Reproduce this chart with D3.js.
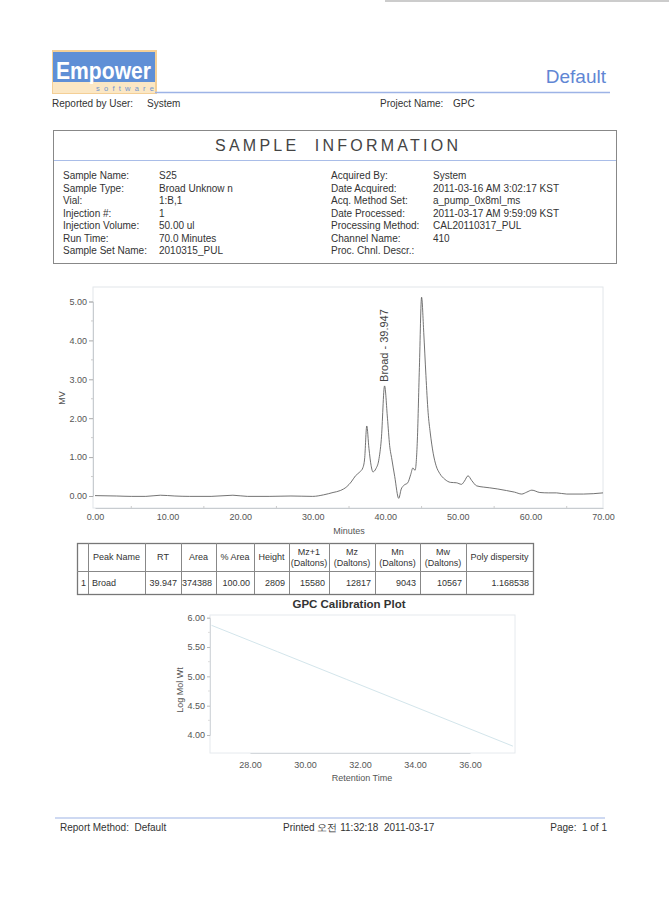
<!DOCTYPE html>
<html>
<head>
<meta charset="utf-8">
<script src="https://cdn.jsdelivr.net/npm/d3@7"></script>
<style>
body { margin: 0; background: #fff; }
text { font-family: "Liberation Sans", Arial, sans-serif; fill: #333; white-space: pre; }
</style>
</head>
<body>
<div id="page"></div>
<script>
// page size
let width = 669,
	height = 906;

// sample information
let infoLeftLabels = ["Sample Name:", "Sample Type:", "Vial:", "Injection #:", "Injection Volume:", "Run Time:", "Sample Set Name:"];
let infoLeftValues = ["S25", "Broad Unknow n", "1:B,1", "1", "50.00 ul", "70.0 Minutes", "2010315_PUL"];
let infoRightLabels = ["Acquired By:", "Date Acquired:", "Acq. Method Set:", "Date Processed:", "Processing Method:", "Channel Name:", "Proc. Chnl. Descr.:"];
let infoRightValues = ["System", "2011-03-16 AM 3:02:17 KST", "a_pump_0x8ml_ms", "2011-03-17 AM 9:59:09 KST", "CAL20110317_PUL", "410", ""];

// chromatogram (minutes, MV)
let chromTime = [0, 3, 5, 7, 9, 11, 13, 16, 19, 21, 24, 27, 30, 31.5, 32.8, 33.8, 34.7, 35.3, 35.9, 36.5, 36.9, 37.15, 37.45, 37.75, 38.05, 38.3, 38.7, 39.1, 39.45, 39.9, 40.3, 40.6, 40.9, 41.3, 41.85, 42.2, 42.6, 43.1, 43.5, 43.8, 44.1, 44.4, 44.7, 45.0, 45.3, 45.6, 45.9, 46.2, 46.6, 47.0, 47.5, 48.2, 49.0, 49.8, 50.5, 50.9, 51.4, 51.9, 52.6, 53.5, 54.4, 55.5, 56.7, 57.8, 58.8, 59.5, 60.2, 61.3, 62.5, 63.6, 65.0, 67.3, 70];
let chromSignal = [0.01, 0.0, -0.01, -0.01, 0.02, 0.0, -0.01, -0.01, 0.02, -0.01, -0.01, 0.0, -0.01, 0.03, 0.09, 0.14, 0.24, 0.36, 0.52, 0.62, 0.72, 0.95, 1.80, 1.22, 0.78, 0.62, 0.70, 0.92, 1.45, 2.83, 2.0, 1.30, 0.95, 0.50, -0.06, 0.18, 0.28, 0.34, 0.55, 0.72, 0.66, 1.35, 3.3, 5.11, 4.2, 3.1, 2.15, 1.62, 1.1, 0.78, 0.58, 0.43, 0.35, 0.34, 0.30, 0.38, 0.52, 0.40, 0.26, 0.23, 0.21, 0.18, 0.14, 0.10, 0.05, 0.10, 0.15, 0.09, 0.08, 0.08, 0.05, 0.05, 0.08];
let chromXTicks = [0, 10, 20, 30, 40, 50, 60, 70];
let chromYTicks = [0, 1, 2, 3, 4, 5];
let peakLabel = "Broad - 39.947";
let peakRT = 39.947, peakHeight = 2.83;

// peak table
let tableHeaders = [["", ""], ["Peak Name"], ["RT"], ["Area"], ["% Area"], ["Height"], ["Mz+1", "(Daltons)"], ["Mz", "(Daltons)"], ["Mn", "(Daltons)"], ["Mw", "(Daltons)"], ["Poly dispersity"]];
let tableRow = ["1", "Broad", "39.947", "374388", "100.00", "2809", "15580", "12817", "9043", "10567", "1.168538"];

// calibration curve
let calRT = [26.6, 29.0, 31.5, 34.0, 37.56];
let calLogMW = [5.87, 5.42, 4.95, 4.48, 3.81];
let calXTicks = [28, 30, 32, 34, 36];
let calYTicks = [4, 4.5, 5, 5.5, 6];

let svg = d3.select("#page").append("svg")
	.attr("width", width)
	.attr("height", height);

svg.append("rect").attr("width", width).attr("height", height).attr("fill", "#fff");

// scanned page edge
svg.append("line").attr("x1", 385).attr("x2", 669).attr("y1", 1).attr("y2", 1)
	.attr("stroke", "#999").attr("stroke-width", 1);

// ---------- header ----------
let logo = svg.append("g");
logo.append("rect").attr("x", 52).attr("y", 50).attr("width", 105).attr("height", 44).attr("fill", "#f4cf96");
logo.append("rect").attr("x", 53).attr("y", 52).attr("width", 102).attr("height", 30).attr("fill", "#5f8fd6");
logo.append("rect").attr("x", 53).attr("y", 82).attr("width", 102).attr("height", 11).attr("fill", "#fbe7c4");
logo.append("text").attr("x", 56).attr("y", 79).attr("font-size", 24).attr("font-weight", "bold")
	.attr("textLength", 95).attr("lengthAdjust", "spacingAndGlyphs")
	.style("fill", "#fff").text("Empower");
logo.append("text").attr("x", 96).attr("y", 91).attr("font-size", 7.5)
	.attr("textLength", 58).attr("lengthAdjust", "spacing")
	.style("fill", "#6f95d0").text("software");

svg.append("line").attr("x1", 155).attr("x2", 610).attr("y1", 92.5).attr("y2", 92.5)
	.attr("stroke", "#9db3e6").attr("stroke-width", 1.5);
svg.append("text").attr("x", 606).attr("y", 83).attr("text-anchor", "end").attr("font-size", 19)
	.style("fill", "#5f86d4").text("Default");

svg.append("text").attr("x", 52).attr("y", 107).attr("font-size", 10).text("Reported by User:");
svg.append("text").attr("x", 147).attr("y", 107).attr("font-size", 10).text("System");
svg.append("text").attr("x", 380).attr("y", 107).attr("font-size", 10).text("Project Name:");
svg.append("text").attr("x", 453).attr("y", 107).attr("font-size", 10).text("GPC");

// ---------- sample information box ----------
svg.append("rect").attr("x", 53.5).attr("y", 130.5).attr("width", 563).attr("height", 133)
	.attr("fill", "none").attr("stroke", "#888").attr("stroke-width", 1);
svg.append("line").attr("x1", 54).attr("x2", 616).attr("y1", 160.5).attr("y2", 160.5)
	.attr("stroke", "#a9bde8").attr("stroke-width", 1.2);
svg.append("text").attr("x", 215).attr("y", 151).attr("font-size", 16)
	.attr("textLength", 243).attr("lengthAdjust", "spacing")
	.style("fill", "#444").text("SAMPLE  INFORMATION");

let rowY = d3.scaleLinear().domain([0, 6]).range([179, 254]);
let info = svg.append("g").attr("font-size", 10);
infoLeftLabels.forEach((d, i) => {
	info.append("text").attr("x", 63).attr("y", rowY(i)).text(d);
	info.append("text").attr("x", 159).attr("y", rowY(i)).text(infoLeftValues[i]);
	info.append("text").attr("x", 331).attr("y", rowY(i)).text(infoRightLabels[i]);
	info.append("text").attr("x", 433).attr("y", rowY(i)).text(infoRightValues[i]);
});

// ---------- chromatogram ----------
let cx = d3.scaleLinear().domain([0, 70]).range([95, 603]);
let cy = d3.scaleLinear().domain([0, 5]).range([496, 301.5]);
let cTop = 287, cBottom = 508, cLeft = 93, cRight = 603;

let chrom = svg.append("g");
chrom.append("rect").attr("x", cLeft).attr("y", cTop).attr("width", cRight - cLeft).attr("height", cBottom - cTop)
	.attr("fill", "none").attr("stroke", "#e2e6ea").attr("stroke-width", 1);

let yAxis = chrom.append("g").attr("transform", "translate(" + cLeft + ",0)")
	.call(d3.axisLeft(cy).tickValues(chromYTicks).tickFormat(d3.format(".2f")).tickSize(4).tickPadding(2));
let xAxis = chrom.append("g").attr("transform", "translate(0," + cBottom + ")")
	.call(d3.axisBottom(cx).tickValues(chromXTicks).tickFormat(d3.format(".2f")).tickSize(0).tickPadding(6));
[yAxis, xAxis].forEach(a => {
	a.select(".domain").attr("stroke", "#c8ccd0");
	a.selectAll(".tick line").attr("stroke", "#aaa");
	a.selectAll("text").attr("font-size", 9).style("fill", "#555")
		.style("font-family", "'Liberation Sans', Arial, sans-serif");
});
// minor ticks
chrom.selectAll(".ymin").data(d3.range(0.5, 5.5, 1)).enter().append("line")
	.attr("x1", cLeft - 2).attr("x2", cLeft).attr("y1", d => cy(d)).attr("y2", d => cy(d)).attr("stroke", "#ccc");
chrom.selectAll(".xmin").data(d3.range(5, 70, 10)).enter().append("line")
	.attr("x1", d => cx(d)).attr("x2", d => cx(d)).attr("y1", cBottom).attr("y2", cBottom - 2).attr("stroke", "#ccc");

let chromData = chromTime.map((t, i) => ({t: t, v: chromSignal[i]}));
chrom.append("path").datum(chromData)
	.attr("fill", "none").attr("stroke", "#5a5a5a").attr("stroke-width", 0.85)
	.attr("d", d3.line().x(d => cx(d.t)).y(d => cy(d.v)).curve(d3.curveMonotoneX));

chrom.append("text")
	.attr("transform", "translate(" + (cx(peakRT) + 3.5) + "," + (cy(peakHeight) - 4) + ") rotate(-90)")
	.attr("font-size", 11).style("fill", "#444").text(peakLabel);

chrom.append("text").attr("x", 349).attr("y", 534).attr("text-anchor", "middle").attr("font-size", 9)
	.style("fill", "#555").text("Minutes");
chrom.append("text").attr("transform", "translate(65,398) rotate(-90)").attr("text-anchor", "middle")
	.attr("font-size", 9).style("fill", "#555").text("MV");

// ---------- peak table ----------
let colEdges = [77, 88, 145, 181, 216, 254, 289, 329, 375, 420, 466, 533];
let tTop = 543, tMid = 571, tBot = 594;
let table = svg.append("g").attr("font-size", 9);
table.append("rect").attr("x", colEdges[0] + 0.5).attr("y", tTop + 0.5)
	.attr("width", colEdges[colEdges.length - 1] - colEdges[0]).attr("height", tBot - tTop)
	.attr("fill", "none").attr("stroke", "#777").attr("stroke-width", 1.3);
table.append("line").attr("x1", colEdges[0]).attr("x2", colEdges[colEdges.length - 1])
	.attr("y1", tMid + 0.5).attr("y2", tMid + 0.5).attr("stroke", "#888");
colEdges.slice(1, -1).forEach(e => {
	table.append("line").attr("x1", e + 0.5).attr("x2", e + 0.5).attr("y1", tTop).attr("y2", tBot).attr("stroke", "#888");
});
tableHeaders.forEach((h, i) => {
	let mid = (colEdges[i] + colEdges[i + 1]) / 2;
	if (h.length === 1) {
		table.append("text").attr("x", mid).attr("y", (tTop + tMid) / 2 + 3).attr("text-anchor", "middle").text(h[0]);
	} else {
		table.append("text").attr("x", mid).attr("y", tTop + 12).attr("text-anchor", "middle").text(h[0]);
		table.append("text").attr("x", mid).attr("y", tTop + 23).attr("text-anchor", "middle").text(h[1]);
	}
});
tableRow.forEach((v, i) => {
	let left = i < 2;
	table.append("text")
		.attr("x", left ? colEdges[i] + 4 : colEdges[i + 1] - 4)
		.attr("y", (tMid + tBot) / 2 + 3.5)
		.attr("text-anchor", left ? "start" : "end")
		.text(v);
});

// ---------- calibration plot ----------
let kx = d3.scaleLinear().domain([28, 36]).range([250, 470]);
let ky = d3.scaleLinear().domain([4, 6]).range([735, 617.7]);
let kTop = 615, kBottom = 753, kLeft = 210, kRight = 515;

let cal = svg.append("g");
cal.append("text").attr("x", 349).attr("y", 608).attr("text-anchor", "middle").attr("font-size", 11.5)
	.attr("font-weight", "bold").text("GPC Calibration Plot");
cal.append("rect").attr("x", kLeft).attr("y", kTop).attr("width", kRight - kLeft).attr("height", kBottom - kTop)
	.attr("fill", "none").attr("stroke", "#e6eaee");
let kyAxis = cal.append("g").attr("transform", "translate(" + kLeft + ",0)")
	.call(d3.axisLeft(ky).tickValues(calYTicks).tickFormat(d3.format(".2f")).tickSize(3).tickPadding(2));
let kxAxis = cal.append("g").attr("transform", "translate(0," + kBottom + ")")
	.call(d3.axisBottom(kx).tickValues(calXTicks).tickFormat(d3.format(".2f")).tickSize(0).tickPadding(9));
[kyAxis, kxAxis].forEach(a => {
	a.select(".domain").attr("stroke", "#d4d8dc");
	a.selectAll(".tick line").attr("stroke", "#bbb");
	a.selectAll("text").attr("font-size", 9).style("fill", "#555")
		.style("font-family", "'Liberation Sans', Arial, sans-serif");
});
cal.selectAll(".kmin").data(d3.range(4.25, 6, 0.5)).enter().append("line")
	.attr("x1", kLeft - 2).attr("x2", kLeft).attr("y1", d => ky(d)).attr("y2", d => ky(d)).attr("stroke", "#ddd");

let calData = calRT.map((t, i) => ({t: t, v: calLogMW[i]}));
cal.append("path").datum(calData)
	.attr("fill", "none").attr("stroke", "#d3e5eb").attr("stroke-width", 1)
	.attr("d", d3.line().x(d => kx(d.t)).y(d => ky(d.v)));

cal.append("text").attr("x", 362).attr("y", 781).attr("text-anchor", "middle").attr("font-size", 9)
	.style("fill", "#555").text("Retention Time");
cal.append("text").attr("transform", "translate(183,690) rotate(-90)").attr("text-anchor", "middle")
	.attr("font-size", 9).style("fill", "#555").text("Log Mol Wt");

// ---------- footer ----------
svg.append("line").attr("x1", 55).attr("x2", 605).attr("y1", 818).attr("y2", 818)
	.attr("stroke", "#9db3e6").attr("stroke-width", 1.2);
svg.append("text").attr("x", 60).attr("y", 831).attr("font-size", 10).text("Report Method:  Default");
svg.append("text").attr("x", 283).attr("y", 831).attr("font-size", 10).text("Printed 오전 11:32:18  2011-03-17");
svg.append("text").attr("x", 607).attr("y", 831).attr("text-anchor", "end").attr("font-size", 10).text("Page:  1 of 1");
</script>
</body>
</html>
